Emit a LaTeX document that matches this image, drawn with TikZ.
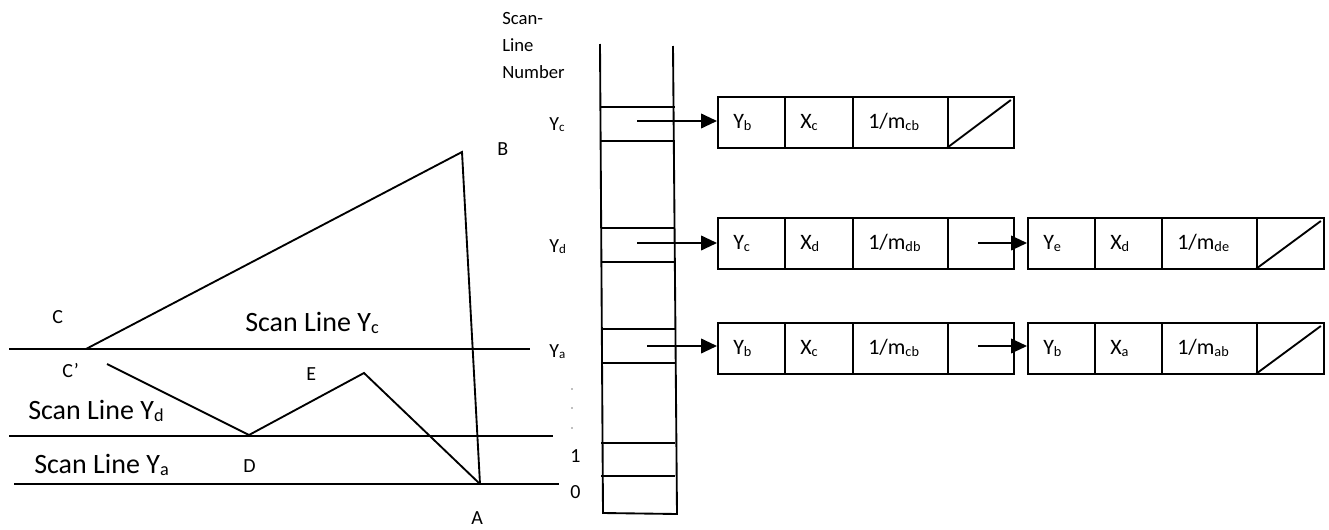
\documentclass[tikz,border=0pt]{standalone}
\usepackage{fontspec}
\setmainfont{Carlito}
\usepackage{graphicx}
\usetikzlibrary{arrows.meta,calc}
\newcommand{\sbs}[1]{\raisebox{-0.08em}{\scalebox{0.65}{#1}}}
\begin{document}
\begin{tikzpicture}[x=0.75pt,y=-0.75pt,
  ln/.style={line width=1.4pt},
  cell/.style={draw,line width=1.4pt,inner sep=0pt,anchor=north west,minimum height=38.25pt,minimum width=#1*0.75pt},
  lbl/.style={font=\fontsize{15}{18}\selectfont,inner sep=0pt,anchor=base west},
  big/.style={font=\fontsize{21}{25}\selectfont,inner sep=0pt,anchor=base west},
  ctext/.style={font=\fontsize{16.5}{20}\selectfont,inner sep=0pt,anchor=base west},
  arr/.style={line width=1.4pt,-{Triangle[length=12pt,width=11pt]}},
  slash/.style={line width=1.4pt}]
\useasboundingbox (0,0) rectangle (1329,529);

% ---------- left figure ----------
\coordinate (Cp) at (86,349);
\coordinate (B) at (462,152);
\coordinate (A) at (480,484);
\coordinate (C2) at (107,364);
\coordinate (D) at (249,435);
\coordinate (E) at (364,373);
\coordinate (L1a) at (9,349);   \coordinate (L1b) at (530,349);
\coordinate (L2a) at (9,436);   \coordinate (L2b) at (553,436);
\coordinate (L3a) at (14,484);  \coordinate (L3b) at (559,484);
\draw[ln] (L1a) -- (L1b);
\draw[ln] (L2a) -- (L2b);
\draw[ln] (L3a) -- (L3b);
\draw[ln] (Cp) -- (B) -- (A);
\draw[ln] (C2) -- (D) -- (E) -- (A);

\node[lbl] (labC) at (52,323) {C};
\node[lbl] (labCp) at (62,377) {C’};
\node[lbl] (labE) at (306,380) {E};
\node[lbl] (labD) at (243,472) {D};
\node[lbl] (labB) at (497,155) {B};
\node[lbl] (labA) at (471,524) {A};
\node[big] (slc) at (245,331) {Scan Line Y\sbs{c}};
\node[big] (sld) at (28,419) {Scan Line Y\sbs{d}};
\node[big] (sla) at (34,473) {Scan Line Y\sbs{a}};

% ---------- scan-line table ----------
\node[lbl,font=\fontsize{14}{20.25}\selectfont,align=left,anchor=north west] (title) at (502,12) {Scan-\\Line\\Number};
\draw[ln] (600,44) -- (603,513) -- (677,514) -- (673,46);
\foreach \yy in {107,141,228,262,329,363,443,476}
  \draw[ln] (601,\yy) -- (675,\yy);
\node[lbl] (yc) at (549,130) {Y\sbs{c}};
\node[lbl] (yd) at (549,252) {Y\sbs{d}};
\node[lbl] (ya) at (549,357) {Y\sbs{a}};
\node[lbl] (one) at (570,462) {1};
\node[lbl] (zero) at (570,498) {0};
\foreach \yy in {389,408,428}
  \fill[gray] (572,\yy) circle (0.6pt);

% ---------- row 1 ----------
\node[cell=67] (r1a) at (717,96) {};
\node[cell=68] (r1b) at (784,96) {};
\node[cell=95] (r1c) at (852,96) {};
\node[cell=66] (r1d) at (947,96) {};
\node[ctext] at ($(r1a.west)+(16,6)$) {Y\sbs{b}};
\node[ctext] at ($(r1b.west)+(16,6)$) {X\sbs{c}};
\node[ctext] at ($(r1c.west)+(16,6)$) {1/m\sbs{cb}};
\draw[slash] ($(r1d.south west)+(0,-1)$) -- ($(r1d.north east)+(-4,4)$);

% ---------- row 2 ----------
\node[cell=67] (r2a) at (717,217) {};
\node[cell=68] (r2b) at (784,217) {};
\node[cell=95] (r2c) at (852,217) {};
\node[cell=66] (r2d) at (947,217) {};
\node[cell=67] (r2e) at (1027,217) {};
\node[cell=67] (r2f) at (1094,217) {};
\node[cell=95] (r2g) at (1161,217) {};
\node[cell=67] (r2h) at (1256,217) {};
\node[ctext] at ($(r2a.west)+(16,6)$) {Y\sbs{c}};
\node[ctext] at ($(r2b.west)+(16,6)$) {X\sbs{d}};
\node[ctext] at ($(r2c.west)+(16,6)$) {1/m\sbs{db}};
\node[ctext] at ($(r2e.west)+(16,6)$) {Y\sbs{e}};
\node[ctext] at ($(r2f.west)+(16,6)$) {X\sbs{d}};
\node[ctext] at ($(r2g.west)+(16,6)$) {1/m\sbs{de}};
\draw[slash] ($(r2h.south west)+(0,-1)$) -- ($(r2h.north east)+(-4,4)$);

% ---------- row 3 ----------
\node[cell=67] (r3a) at (717,322) {};
\node[cell=68] (r3b) at (784,322) {};
\node[cell=95] (r3c) at (852,322) {};
\node[cell=66] (r3d) at (947,322) {};
\node[cell=67] (r3e) at (1027,322) {};
\node[cell=67] (r3f) at (1094,322) {};
\node[cell=95] (r3g) at (1161,322) {};
\node[cell=67] (r3h) at (1256,322) {};
\node[ctext] at ($(r3a.west)+(16,6)$) {Y\sbs{b}};
\node[ctext] at ($(r3b.west)+(16,6)$) {X\sbs{c}};
\node[ctext] at ($(r3c.west)+(16,6)$) {1/m\sbs{cb}};
\node[ctext] at ($(r3e.west)+(16,6)$) {Y\sbs{b}};
\node[ctext] at ($(r3f.west)+(16,6)$) {X\sbs{a}};
\node[ctext] at ($(r3g.west)+(16,6)$) {1/m\sbs{ab}};
\draw[slash] ($(r3h.south west)+(0,-1)$) -- ($(r3h.north east)+(-4,4)$);

% ---------- arrows ----------
\coordinate (s1) at (637,121);
\coordinate (s2) at (637,243);
\coordinate (s3) at (647,346);
\coordinate (t2) at (978,243);
\coordinate (t3) at (978,346);
\draw[arr] (s1) -- (s1 -| r1a.west);
\draw[arr] (s2) -- (s2 -| r2a.west);
\draw[arr] (s3) -- (s3 -| r3a.west);
\draw[arr] (t2) -- (t2 -| r2e.west);
\draw[arr] (t3) -- (t3 -| r3e.west);
\end{tikzpicture}
\end{document}
